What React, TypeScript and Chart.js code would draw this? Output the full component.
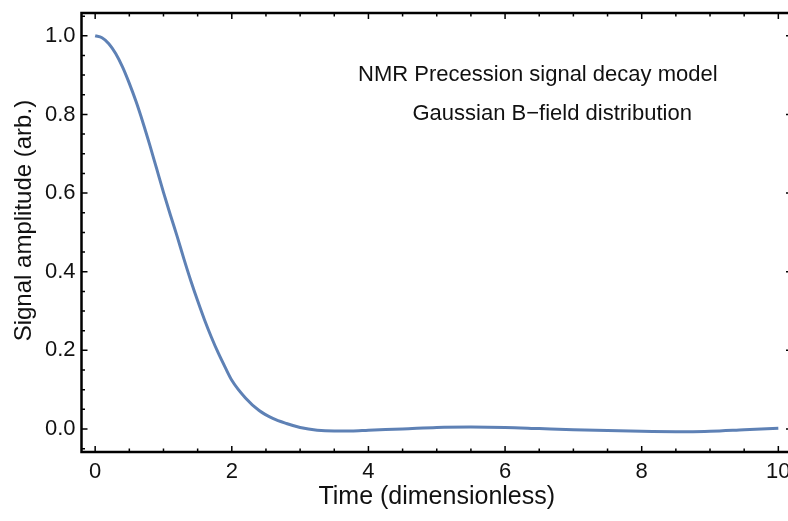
import React, { useEffect, useRef } from "react";
import { Chart, registerables } from "chart.js";

Chart.register(...registerables);

const timeValues = [
  0, 0.1, 0.2, 0.3, 0.4, 0.5, 0.6, 0.7, 0.8, 0.9, 1.0, 1.1, 1.2, 1.3, 1.4, 1.5, 1.6, 1.7, 1.8, 1.9, 2.0,
  2.2, 2.4, 2.6, 2.8, 3.0, 3.25, 3.5, 3.75, 4.0, 4.5, 5.0, 5.5, 6.0, 6.5, 7.0, 7.5, 8.0, 8.5, 8.75, 9.0, 9.5, 10.0,
];
const amplitudeValues = [
  1.0, 0.995, 0.98, 0.955, 0.921, 0.879, 0.832, 0.779, 0.722, 0.662, 0.602, 0.545, 0.49, 0.432, 0.377, 0.326,
  0.278, 0.234, 0.194, 0.158, 0.124, 0.079, 0.047, 0.027, 0.014, 0.004, -0.003, -0.005, -0.005, -0.003, 0.0,
  0.004, 0.005, 0.004, 0.001, -0.002, -0.004, -0.006, -0.007, -0.007, -0.006, -0.002, 0.002,
];

const xMajorTicks = [0, 2, 4, 6, 8, 10];
const yMajorTicks = [0, 0.2, 0.4, 0.6, 0.8, 1.0];

const xAxisTitle = "Time (dimensionless)";
const yAxisTitle = "Signal amplitude (arb.)";

const annotationLines = ["NMR Precession signal decay model", "Gaussian B\u2212field distribution"];
const annotationX = [6.48, 6.69];
const annotationY = [0.9, 0.801];

const FONT = "'Liberation Sans', Arial, sans-serif";

const framePlugin = {
  id: "frameTicks",
  afterDatasetsDraw(chart: any) {
    const { ctx, chartArea } = chart;
    const xs = chart.scales.x;
    const ys = chart.scales.y;
    const { left, right, top, bottom } = chartArea;
    ctx.save();
    ctx.strokeStyle = "#000";
    ctx.lineWidth = 1.5;
    const xMinor: number[] = [];
    for (let i = 0; i <= 20; i++) xMinor.push(i * 0.5);
    const yMinor: number[] = [];
    for (let i = -1; i <= 21; i++) yMinor.push(i * 0.05);
    ctx.beginPath();
    xMinor.forEach((v) => {
      const len = xMajorTicks.some((m) => Math.abs(m - v) < 1e-9) ? 6 : 3.5;
      const px = xs.getPixelForValue(v);
      if (px < left || px > right) return;
      ctx.moveTo(px, bottom);
      ctx.lineTo(px, bottom - len);
      ctx.moveTo(px, top);
      ctx.lineTo(px, top + len);
    });
    yMinor.forEach((v) => {
      const len = yMajorTicks.some((m) => Math.abs(m - v) < 1e-9) ? 6 : 3.5;
      const py = ys.getPixelForValue(v);
      if (py < top || py > bottom) return;
      ctx.moveTo(left, py);
      ctx.lineTo(left + len, py);
      ctx.moveTo(right, py);
      ctx.lineTo(right - len, py);
    });
    ctx.stroke();
    ctx.lineWidth = 2.5;
    ctx.strokeRect(left, top, right - left, bottom - top);

    ctx.fillStyle = "#111";
    ctx.font = `22px ${FONT}`;
    ctx.textAlign = "center";
    ctx.textBaseline = "middle";
    annotationLines.forEach((txt, i) => {
      ctx.fillText(txt, xs.getPixelForValue(annotationX[i]), ys.getPixelForValue(annotationY[i]));
    });

    // y axis title
    ctx.font = `24px ${FONT}`;
    ctx.translate(24, ys.getPixelForValue(0.53));
    ctx.rotate(-Math.PI / 2);
    ctx.fillText(yAxisTitle, 0, 0);
    ctx.restore();
  },
};

export default function App() {
  const canvasRef = useRef<HTMLCanvasElement | null>(null);

  useEffect(() => {
    document.body.style.margin = "0";
    document.body.style.overflow = "hidden";
    const canvas = canvasRef.current;
    if (!canvas) return;
    const chart = new Chart(canvas, {
      type: "line",
      data: {
        datasets: [
          {
            data: timeValues.map((t, i) => ({ x: t, y: amplitudeValues[i] })),
            borderColor: "#5E81B5",
            borderWidth: 3,
            pointRadius: 0,
            fill: false,
            cubicInterpolationMode: "monotone",
          },
        ],
      },
      options: {
        animation: false,
        responsive: false,
        devicePixelRatio: 1,
        layout: { padding: { top: 13, right: 8, left: 0, bottom: 0 } },
        plugins: { legend: { display: false }, tooltip: { enabled: false } },
        scales: {
          x: {
            type: "linear",
            min: -0.2,
            max: 10.2,
            afterFit: (s: any) => {
              s.height = 69;
              s.paddingLeft = 0;
              s.paddingRight = 0;
            },
            ticks: {
              stepSize: 2,
              includeBounds: false,
              autoSkip: false,
              maxRotation: 0,
              padding: 7,
              color: "#111",
              font: { family: FONT, size: 22 },
            },
            grid: { display: false, drawTicks: false },
            border: { display: false },
            title: {
              display: true,
              text: xAxisTitle,
              color: "#111",
              font: { family: FONT, size: 25 },
              padding: { top: 0, bottom: 9 },
            },
          },
          y: {
            type: "linear",
            min: -0.0585,
            max: 1.058,
            afterFit: (s: any) => {
              s.width = 81.5;
              s.paddingTop = 0;
              s.paddingBottom = 0;
            },
            ticks: {
              stepSize: 0.2,
              includeBounds: false,
              autoSkip: false,
              padding: 6,
              color: "#111",
              font: { family: FONT, size: 22 },
              callback: (v: any) => Number(v).toFixed(1),
            },
            grid: { display: false, drawTicks: false },
            border: { display: false },
            title: { display: false },
          },
        },
      },
      plugins: [framePlugin],
    });
    return () => chart.destroy();
  }, []);

  return (
    <div style={{ position: "absolute", left: 0, top: 0, width: 788, height: 521, overflow: "hidden", background: "#fff" }}>
      <canvas ref={canvasRef} width={800} height={521} style={{ width: 800, height: 521, display: "block" }} />
    </div>
  );
}
